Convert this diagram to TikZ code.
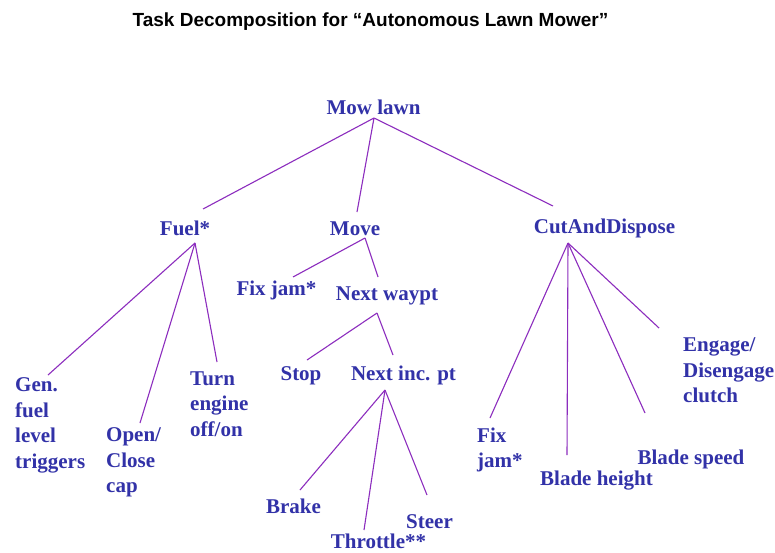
\documentclass[tikz,border=0pt]{standalone}
\usepackage{fontspec}
\setmainfont{Liberation Serif}
\newfontfamily\titlefont{Liberation Sans}
\definecolor{labelblue}{RGB}{50,50,168}
\definecolor{linkviolet}{RGB}{140,45,190}
\begin{document}
\begin{tikzpicture}[x=1pt,y=-1pt,
  task/.style={inner sep=0pt, text=labelblue, font=\fontsize{21}{25.5}\selectfont\bfseries},
  leaf/.style={task, align=left, anchor=north west},
  label/.style={task, anchor=base},
  link/.style={draw=linkviolet, line width=1.1pt}]
\useasboundingbox[fill=white] (0,0) rectangle (775,552);

% heading
\node[anchor=base, inner sep=0pt, font=\titlefont\fontsize{19}{22}\selectfont\bfseries] (title)
  at (370.5,26) {Task Decomposition for “Autonomous Lawn Mower”};

% task nodes (base point = text centre on the baseline)
\node[label] (mow)      at (373.5,114) {Mow lawn};
\node[label] (fuel)     at (185,235)   {Fuel*};
\node[label] (move)     at (355,235)   {Move};
\node[label] (cad)      at (604.5,233) {CutAndDispose};
\node[label] (fixjam)   at (276.5,295) {Fix jam*};
\node[label] (waypt)    at (387,300)   {Next waypt};
\node[label] (stop)     at (301,380)   {Stop};
\node[label] (nextinc)  at (403.5,380) {Next inc. pt};
\node[label] (brake)    at (293.5,513) {Brake};
\node[label] (throttle) at (378.5,548) {Throttle**};
\node[label] (steer)    at (429.5,528) {Steer};
\node[label] (bheight)  at (596.5,485) {Blade height};
\node[label] (bspeed)   at (691,464)   {Blade speed};

% multi-line leaves (top-left corner)
\node[leaf] (gen)     at (15,377.5)  {Gen.\\fuel\\level\\triggers};
\node[leaf] (cap)     at (106,427.5) {Open/\\Close\\cap};
\node[leaf] (engine)  at (190,371.5) {Turn\\engine\\off/on};
\node[leaf] (fixjamb) at (477,427.5) {Fix\\jam*};
\node[leaf] (clutch)  at (683,337.5) {Engage/\\Disengage\\clutch};

% Mow lawn
\draw[link] ([shift={(0.5,4)}]mow.base) -- ([shift={(18,-26)}]fuel.base);
\draw[link] ([shift={(0.5,4)}]mow.base) -- ([shift={(2,-23)}]move.base);
\draw[link] ([shift={(0.5,4)}]mow.base) -- ([shift={(-51.5,-27)}]cad.base);

% Fuel*
\draw[link] ([shift={(10,8)}]fuel.base) -- ([shift={(33,-2.5)}]gen.north west);
\draw[link] ([shift={(10,8)}]fuel.base) -- ([shift={(34,-4.5)}]cap.north west);
\draw[link] ([shift={(10,8)}]fuel.base) -- ([shift={(27,-9.5)}]engine.north west);

% Move
\draw[link] ([shift={(10,3)}]move.base) -- ([shift={(16.5,-18)}]fixjam.base);
\draw[link] ([shift={(10,3)}]move.base) -- ([shift={(-9,-23)}]waypt.base);

% Next waypt
\draw[link] ([shift={(-10,13)}]waypt.base) -- ([shift={(6,-20)}]stop.base);
\draw[link] ([shift={(-10,13)}]waypt.base) -- ([shift={(-10.5,-25)}]nextinc.base);

% Next inc. pt
\draw[link] ([shift={(-18.5,10)}]nextinc.base) -- ([shift={(6.5,-23)}]brake.base);
\draw[link] ([shift={(-18.5,10)}]nextinc.base) -- ([shift={(-14.5,-18)}]throttle.base);
\draw[link] ([shift={(-18.5,10)}]nextinc.base) -- ([shift={(-2.5,-33)}]steer.base);

% CutAndDispose
\draw[link] ([shift={(-36.5,10)}]cad.base) -- ([shift={(13,-9.5)}]fixjamb.north west);
\draw[link] ([shift={(-36.5,10)}]cad.base) -- ([shift={(-29.5,-30)}]bheight.base);
\draw[link] ([shift={(-36.5,10)}]cad.base) -- ([shift={(-46,-51)}]bspeed.base);
\draw[link] ([shift={(-36.5,10)}]cad.base) -- ([shift={(-24,-9.5)}]clutch.north west);
\end{tikzpicture}
\end{document}
